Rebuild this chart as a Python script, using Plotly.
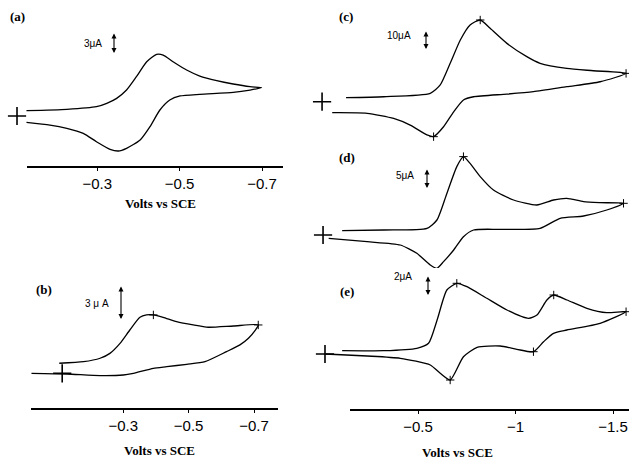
import plotly.graph_objects as go

W, H = 629, 459

# ---------------- data: potential (V vs SCE), current (uA, cathodic up) ----------------
a_fwd_v = [-0.128, -0.226, -0.298, -0.323, -0.347, -0.371, -0.395, -0.420, -0.444, -0.460, -0.484, -0.517, -0.549, -0.590, -0.630, -0.671, -0.699]
a_fwd_i = [0.76, 0.95, 1.33, 1.81, 2.52, 3.71, 5.62, 7.76, 8.81, 8.71, 7.76, 6.57, 5.71, 5.05, 4.57, 4.19, 4.05]
a_rev_v = [-0.699, -0.671, -0.630, -0.549, -0.501, -0.476, -0.452, -0.428, -0.404, -0.371, -0.351, -0.331, -0.298, -0.266, -0.226, -0.185, -0.128]
a_rev_i = [3.95, 3.71, 3.38, 3.10, 2.86, 2.29, 0.86, -1.52, -3.43, -4.62, -5.00, -4.76, -3.67, -2.48, -1.76, -1.29, -0.90]

b_fwd_v = [-0.104, -0.178, -0.229, -0.259, -0.290, -0.320, -0.351, -0.371, -0.392, -0.422, -0.463, -0.514, -0.560, -0.637, -0.713]
b_fwd_i = [0.88, 1.02, 1.32, 1.75, 2.63, 3.80, 4.91, 5.12, 5.12, 4.91, 4.53, 4.24, 4.04, 4.15, 4.24]
b_rev_v = [-0.713, -0.703, -0.683, -0.657, -0.616, -0.550, -0.494, -0.433, -0.392, -0.331, -0.300, -0.229, -0.127, -0.019]
b_rev_i = [4.24, 3.74, 3.07, 2.49, 1.90, 1.02, 0.79, 0.58, 0.44, 0.00, -0.15, -0.20, -0.06, 0.00]

c_fwd_v = [-0.131, -0.324, -0.563, -0.614, -0.665, -0.717, -0.767, -0.819, -0.870, -0.956, -1.058, -1.126, -1.263, -1.399, -1.567]
c_fwd_i = [2.1, 2.6, 4.4, 8.8, 20.2, 32.5, 40.4, 43.0, 38.6, 30.7, 23.7, 20.2, 17.5, 16.3, 14.9]
c_rev_v = [-1.567, -1.434, -1.263, -1.092, -0.956, -0.785, -0.733, -0.683, -0.631, -0.580, -0.546, -0.460, -0.375, -0.239, -0.060]
c_rev_i = [14.9, 10.5, 7.9, 5.3, 4.0, 2.6, 0.9, -5.3, -13.2, -18.4, -17.5, -12.3, -8.8, -6.1, -5.8]

d_fwd_v = [-0.111, -0.324, -0.546, -0.597, -0.648, -0.699, -0.733, -0.767, -0.819, -0.887, -0.990, -1.109, -1.195, -1.263, -1.349, -1.434, -1.554]
d_fwd_i = [1.08, 1.25, 1.67, 3.75, 10.4, 17.1, 19.6, 17.9, 14.6, 11.25, 8.75, 7.5, 8.75, 9.17, 8.33, 8.08, 7.92]
d_rev_v = [-1.554, -1.468, -1.349, -1.229, -1.126, -0.921, -0.785, -0.733, -0.683, -0.631, -0.597, -0.563, -0.494, -0.409, -0.239, -0.042]
d_rev_i = [7.92, 6.25, 4.75, 4.17, 1.67, 1.42, 1.25, -0.42, -3.75, -6.67, -8.33, -7.5, -4.58, -2.5, -1.67, -0.83]

e_fwd_v = [-0.111, -0.324, -0.494, -0.554, -0.598, -0.648, -0.699, -0.751, -0.853, -0.956, -1.067, -1.110, -1.161, -1.196, -1.264, -1.366, -1.468, -1.567]
e_fwd_i = [0.33, 0.33, 0.57, 1.07, 3.40, 6.40, 7.07, 6.73, 5.57, 4.40, 3.57, 3.90, 5.40, 5.90, 5.40, 4.57, 4.13, 4.23]
e_rev_v = [-1.567, -1.434, -1.263, -1.195, -1.144, -1.092, -1.007, -0.921, -0.803, -0.733, -0.665, -0.614, -0.563, -0.409, -0.239, -0.026]
e_rev_i = [4.07, 3.07, 2.40, 2.07, 1.23, 0.23, 0.47, 0.80, 0.67, -0.27, -2.60, -1.93, -1.10, -0.43, -0.20, 0.00]

# start potentials marked with "+" (zero current)
zero_v = {"a": -0.105, "b": -0.113, "c": -0.008, "d": -0.013, "e": -0.023}

# peak markers: (branch, index)
peak_marks = {
    "a": [],
    "b": [("f", 8), ("f", 14)],
    "c": [("f", 7), ("r", 9), ("f", 14)],
    "d": [("f", 6), ("r", 10), ("f", 16)],
    "e": [("f", 6), ("f", 13), ("r", 5), ("r", 10), ("f", 17)],
}

panel_labels = ["(a)", "(b)", "(c)", "(d)", "(e)"]
scale_labels = ["3\u03bcA", "3 \u03bc A", "10\u03bcA", "5\u03bcA", "2\u03bcA"]
tick_vals_left = [-0.3, -0.5, -0.7]
tick_text_left = ["\u22120.3", "\u22120.5", "\u22120.7"]
tick_vals_right = [-0.5, -1, -1.5]
tick_text_right = ["\u22120.5", "\u22121", "\u22121.5"]
xlabel = "Volts vs SCE"

# ---------------- layout geometry (pixels) ----------------
xcal = {
    "a": ((97.3, -0.3), (262.0, -0.7)),
    "b": ((123.3, -0.3), (254.0, -0.7)),
    "c": ((418.0, -0.5), (613.0, -1.5)),
    "d": ((418.0, -0.5), (613.0, -1.5)),
    "e": ((418.0, -0.5), (613.0, -1.5)),
}
ycal = {"a": (116.0, 7.0), "b": (373.3, 11.4), "c": (101.7, 1.9), "d": (235.0, 4.0), "e": (354.0, 10.0)}
boxes = {  # x0, x1, ytop, ybottom
    "a": (0, 300, 20, 165),
    "b": (0, 300, 265, 400),
    "c": (305, 629, 3, 146),
    "d": (305, 629, 146, 268),
    "e": (305, 629, 268, 390),
}

def fx(key, p):
    (p1, v1), (p2, v2) = xcal[key]
    return v1 + (p - p1) * (v2 - v1) / (p2 - p1)

def fy(key, p):
    z, k = ycal[key]
    return (z - p) / k

data = {
    "a": (a_fwd_v, a_fwd_i, a_rev_v, a_rev_i),
    "b": (b_fwd_v, b_fwd_i, b_rev_v, b_rev_i),
    "c": (c_fwd_v, c_fwd_i, c_rev_v, c_rev_i),
    "d": (d_fwd_v, d_fwd_i, d_rev_v, d_rev_i),
    "e": (e_fwd_v, e_fwd_i, e_rev_v, e_rev_i),
}

fig = go.Figure()
layout = {}
keys = ["a", "b", "c", "d", "e"]
for n, key in enumerate(keys, start=1):
    fv, fi, rv, ri = data[key]
    xa = "x" if n == 1 else f"x{n}"
    ya = "y" if n == 1 else f"y{n}"
    fig.add_trace(go.Scatter(x=fv + rv[1:], y=fi + ri[1:], mode="lines", xaxis=xa, yaxis=ya,
                             line=dict(color="black", width=1.3, shape="spline", smoothing=0.6),
                             showlegend=False, hoverinfo="skip"))
    fig.add_trace(go.Scatter(x=[zero_v[key]], y=[0], mode="markers", xaxis=xa, yaxis=ya,
                             marker=dict(symbol="cross-thin", size=13, line=dict(color="black", width=1.6)),
                             showlegend=False, hoverinfo="skip", cliponaxis=False))
    if peak_marks[key]:
        px_ = [(fv if b == "f" else rv)[i] for b, i in peak_marks[key]]
        py_ = [(fi if b == "f" else ri)[i] for b, i in peak_marks[key]]
        fig.add_trace(go.Scatter(x=px_, y=py_, mode="markers", xaxis=xa, yaxis=ya,
                                 marker=dict(symbol="cross-thin", size=6, line=dict(color="black", width=1)),
                                 showlegend=False, hoverinfo="skip", cliponaxis=False))
    x0, x1, yt, yb = boxes[key]
    layout["xaxis" if n == 1 else f"xaxis{n}"] = dict(
        domain=[x0 / W, x1 / W], range=[fx(key, x0), fx(key, x1)], visible=False, anchor=ya)
    layout["yaxis" if n == 1 else f"yaxis{n}"] = dict(
        domain=[1 - yb / H, 1 - yt / H], range=[fy(key, yb), fy(key, yt)], visible=False, anchor=xa)

vis_axes = [
    ("a", 27, 283, 166.5, tick_vals_left, tick_text_left),
    ("b", 31, 278, 408.5, tick_vals_left, tick_text_left),
    ("e", 350, 629, 410, tick_vals_right, tick_text_right),
]
for j, (key, x0, x1, ypos, tv, tt) in enumerate(vis_axes):
    n = 6 + j
    layout[f"xaxis{n}"] = dict(
        domain=[x0 / W, x1 / W], range=[fx(key, x0), fx(key, x1)], anchor="free",
        position=1 - ypos / H, showline=True, linecolor="black", linewidth=2,
        ticks="outside", ticklen=3, tickwidth=1, tickcolor="black",
        tickvals=tv, ticktext=tt, showgrid=False, zeroline=False,
        tickfont=dict(family="Liberation Sans", size=15, color="black"))
    fig.add_trace(go.Scatter(x=[None], y=[None], xaxis=f"x{n}", yaxis="y", showlegend=False))

fig.update_layout(**layout)

ann = []
for txt, (px, py) in zip(panel_labels, [(17, 17), (44, 289), (346, 16), (347, 157), (347, 291)]):
    ann.append(dict(text=f"<b>{txt}</b>", x=px / W, y=1 - py / H, xref="paper", yref="paper",
                    showarrow=False, xanchor="center", yanchor="middle",
                    font=dict(family="Liberation Serif", size=13, color="black")))
for (px, py) in [(160, 203), (159, 450), (457, 452)]:
    ann.append(dict(text=f"<b>{xlabel}</b>", x=px / W, y=1 - py / H, xref="paper", yref="paper",
                    showarrow=False, xanchor="center", yanchor="middle",
                    font=dict(family="Liberation Serif", size=13, color="black")))
scale_geo = [  # label right edge x, label y, arrow x, arrow top, arrow bottom
    (104, 43, 114, 32, 53),
    (111, 303, 121, 285, 319),
    (413, 35, 426, 30, 49),
    (416, 175, 427, 168, 188),
    (414, 276, 428, 275, 295),
]
for txt, (lx, ly, ax_, at, ab) in zip(scale_labels, scale_geo):
    ann.append(dict(text=txt, x=lx / W, y=1 - ly / H, xref="paper", yref="paper", showarrow=False,
                    xanchor="right", yanchor="middle",
                    font=dict(family="Liberation Sans", size=10, color="black")))
    ann.append(dict(text="", x=ax_ / W, y=1 - ab / H, xref="paper", yref="paper", showarrow=True,
                    ax=0, ay=-(ab - at), arrowside="end+start", arrowhead=2, arrowsize=0.9,
                    arrowwidth=1.1, arrowcolor="black"))

fig.update_layout(width=W, height=H, margin=dict(l=0, r=0, t=0, b=0), autosize=False,
                  paper_bgcolor="white", plot_bgcolor="rgba(0,0,0,0)", annotations=ann,
                  showlegend=False)

fig.write_html("out.html", config={"displayModeBar": False},
               post_script="document.body.style.margin='0';document.body.style.overflow='hidden';")
